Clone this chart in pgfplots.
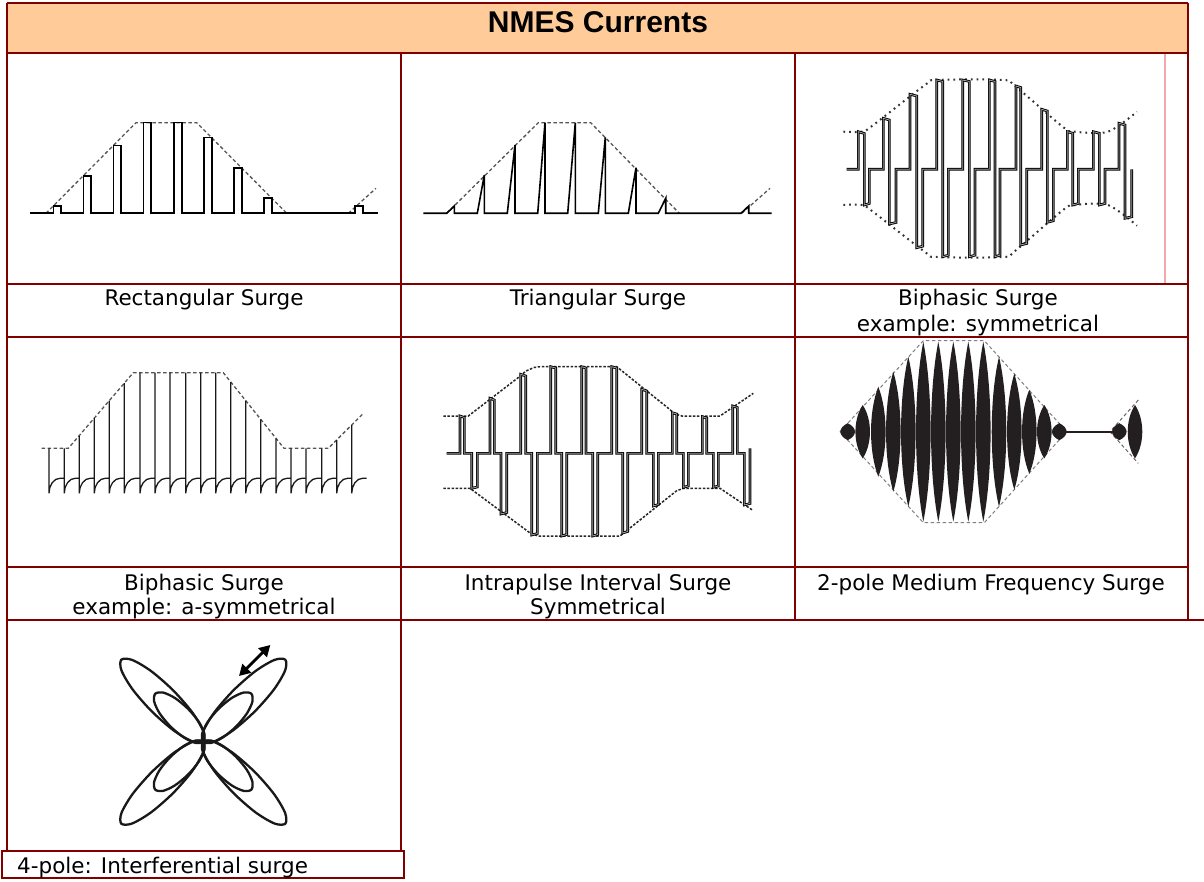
\documentclass[border=0pt]{standalone}
\usepackage{fontspec}
\setmainfont{DejaVu Sans}
\newfontfamily\titlefont{Liberation Sans}
\usepackage{pgfplots}
\pgfplotsset{compat=1.18}
\usetikzlibrary{arrows.meta}

\definecolor{bord}{HTML}{800000}
\definecolor{titlec}{HTML}{FFCC99}
\definecolor{pinkc}{HTML}{F2A8A8}
\definecolor{lensc}{HTML}{231F20}
\definecolor{envc}{HTML}{555555}

% lens shaped pulse of the medium frequency burst, height = mark size
\pgfdeclareplotmark{lens}{%
  \pgfpathmoveto{\pgfqpoint{0pt}{\pgfplotmarksize}}%
  \pgfpathcurveto{\pgfqpoint{9.7pt}{0.45\pgfplotmarksize}}{\pgfqpoint{9.7pt}{-0.45\pgfplotmarksize}}{\pgfqpoint{0pt}{-\pgfplotmarksize}}%
  \pgfpathcurveto{\pgfqpoint{-9.7pt}{-0.45\pgfplotmarksize}}{\pgfqpoint{-9.7pt}{0.45\pgfplotmarksize}}{\pgfqpoint{0pt}{\pgfplotmarksize}}%
  \pgfpathclose\pgfusepathqfill}

\newcommand{\capf}{\fontsize{21.5}{25}\selectfont}

\begin{document}
\begin{tikzpicture}
\useasboundingbox (0,0) rectangle (1204pt,882pt);
\fill[white] (0,0) rectangle (1204pt,882pt);
\begin{axis}[at={(0,0)}, anchor=south west, scale only axis,
  width=1204pt, height=882pt,
  xmin=0, xmax=1204, ymin=0, ymax=882, y dir=reverse,
  hide axis, clip=false,
  wave/.style={mark=none, draw=black, line width=1.6pt},
  dbl/.style={mark=none, draw=black, line width=0.9pt, double=black!35, double distance=0.8pt},
  env/.style={mark=none, draw=envc, line width=1.3pt, dash pattern=on 3.5pt off 2.5pt},
  ell/.style={mark=none, smooth cycle, draw=black!90, line width=2.3pt},
]
% title row
\fill[titlec] (7,3) rectangle (1188,53);

% ---- Rectangular surge
\addplot[env] coordinates {(46,213.3) (136,122.7) (196.7,122.7) (286.7,213.3)};
\addplot[env] coordinates {(348.3,213.3) (376,188.3)};
\addplot[wave] coordinates {
 (30,213.3)
 (53.3,213.3) (53.3,206) (60.7,206) (60.7,213.3)
 (83.3,213.3) (83.3,176) (91,176) (91,213.3)
 (113.3,213.3) (113.3,145.7) (121,145.7) (121,213.3)
 (143.3,213.3) (143.3,122.7) (151,122.7) (151,213.3)
 (174,213.3) (174,122.7) (181.7,122.7) (181.7,213.3)
 (204,213.3) (204,137.7) (211.7,137.7) (211.7,213.3)
 (234,213.3) (234,168.3) (241.7,168.3) (241.7,213.3)
 (264,213.3) (264,198.3) (271.7,198.3) (271.7,213.3)
 (355,213.3) (355,206) (362.7,206) (362.7,213.3)
 (378,213.3)};

% ---- Triangular surge
\addplot[env] coordinates {(446.7,213.3) (538.3,122.7) (590.7,122.7) (679.3,213.3)};
\addplot[env] coordinates {(741.7,213.3) (770,188.3)};
\addplot[wave] coordinates {
 (423.3,213.3)
 (446.7,213.3) (454.3,206) (454.3,213.3)
 (477.3,213.3) (484.3,175) (484.3,213.3)
 (507.3,213.3) (515,145) (515,213.3)
 (537.7,213.3) (545,122.7) (545,213.3)
 (567.7,213.3) (575.3,122.7) (575.3,213.3)
 (598.3,213.3) (605.3,137.3) (605.3,213.3)
 (628.3,213.3) (636,167.7) (636,213.3)
 (658.3,213.3) (665.7,198.3) (665.7,213.3)
 (741,213.3) (748.7,206) (748.7,213.3)
 (771.7,213.3)};

% ---- Biphasic surge, symmetrical
\addplot[mark=none, smooth, draw=black!80, line width=2pt, dash pattern=on 1.8pt off 4pt] coordinates {
 (843.3,131.7) (862,131.7) (872,126) (925,85) (937,80) (1003,80) (1015,86) (1063,127) (1075,131.7) (1108,131.7) (1137,111.7)};
\addplot[mark=none, smooth, draw=black!80, line width=2pt, dash pattern=on 1.8pt off 4pt] coordinates {
 (843.3,205) (862,205) (872,211) (925,252) (937,257) (1003,257) (1015,251) (1063,210) (1075,205) (1108,205) (1137,225.7)};
\addplot[dbl] coordinates {
 (846.7,169.3)
 (858.3,169.3) (858.3,131.7) (864.3,133.5) (864.3,205) (869.3,203.5) (869.3,169.3)
 (883.3,169.3) (883.3,118.3) (889.3,120) (889.3,224) (896,222.5) (896,169.3)
 (910,169.3) (910,94.3) (916.7,96) (916.7,247.7) (922.7,246.2) (922.7,169.3)
 (936.7,169.3) (936.7,80) (942.7,81.5) (942.7,256.7) (948.3,255.2) (948.3,169.3)
 (962.7,169.3) (962.7,80) (969.3,81.5) (969.3,256.7) (975,255.2) (975,169.3)
 (989.3,169.3) (989.3,80) (995,81.5) (995,256.7) (1000,255.2) (1000,169.3)
 (1016,169.3) (1016,86) (1020.7,87.5) (1020.7,245) (1026.7,243.5) (1026.7,169.3)
 (1041.7,169.3) (1041.7,109.3) (1047.3,111) (1047.3,222.3) (1053.3,220.8) (1053.3,169.3)
 (1067.3,169.3) (1067.3,131.7) (1072.7,133.2) (1072.7,205) (1078.3,203.5) (1078.3,169.3)
 (1093.3,169.3) (1093.3,131.7) (1099.3,133.2) (1099.3,205) (1105,203.5) (1105,169.3)
 (1119,169.3) (1119,123.3) (1125,125) (1125,218.3) (1131.7,216.8) (1131.7,169.3)};

% ---- Biphasic surge, a-symmetrical
\addplot[env] coordinates {(41.7,448.3) (68.3,448.3) (133.3,372.7) (223.3,372.7) (284,448.3) (328.3,448.3) (362.7,414)};
\addplot[mark=none, draw=black!90, line width=1.3pt] coordinates {
 (49,448.3) (49,493.3) (49.8,487.6) (52.2,482.7) (55.8,479.4) (60,478.3)
 (64.3,478.3) (64.3,448.3) (64.3,493.3) (65.1,487.6) (67.5,482.7) (71.1,479.4) (75.3,478.3)
 (79.3,478.3) (79.3,436) (79.3,493.3) (80.1,487.6) (82.5,482.7) (86.1,479.4) (90.3,478.3)
 (94.3,478.3) (94.3,418.2) (94.3,493.3) (95.1,487.6) (97.5,482.7) (101.1,479.4) (105.3,478.3)
 (109.3,478.3) (109.3,400.6) (109.3,493.3) (110.1,487.6) (112.5,482.7) (116.1,479.4) (120.3,478.3)
 (124.3,478.3) (124.3,383.2) (124.3,493.3) (125.1,487.6) (127.5,482.7) (131.1,479.4) (135.3,478.3)
 (140,478.3) (140,372.7) (140,493.3) (140.8,487.6) (143.2,482.7) (146.8,479.4) (151,478.3)
 (155,478.3) (155,372.7) (155,493.3) (155.8,487.6) (158.2,482.7) (161.8,479.4) (166,478.3)
 (170,478.3) (170,372.7) (170,493.3) (170.8,487.6) (173.2,482.7) (176.8,479.4) (181,478.3)
 (185.7,478.3) (185.7,372.7) (185.7,493.3) (186.5,487.6) (188.9,482.7) (192.5,479.4) (196.7,478.3)
 (200.7,478.3) (200.7,372.7) (200.7,493.3) (201.5,487.6) (203.9,482.7) (207.5,479.4) (211.7,478.3)
 (215.7,478.3) (215.7,372.7) (215.7,493.3) (216.5,487.6) (218.9,482.7) (222.5,479.4) (226.7,478.3)
 (230.7,478.3) (230.7,382) (230.7,493.3) (231.5,487.6) (233.9,482.7) (237.5,479.4) (241.7,478.3)
 (245.7,478.3) (245.7,400.6) (245.7,493.3) (246.5,487.6) (248.9,482.7) (252.5,479.4) (256.7,478.3)
 (260.7,478.3) (260.7,419.3) (260.7,493.3) (261.5,487.6) (263.9,482.7) (267.5,479.4) (271.7,478.3)
 (276,478.3) (276,438.3) (276,493.3) (276.8,487.6) (279.2,482.7) (282.8,479.4) (287,478.3)
 (291,478.3) (291,448.3) (291,493.3) (291.8,487.6) (294.2,482.7) (297.8,479.4) (302,478.3)
 (306,478.3) (306,448.3) (306,493.3) (306.8,487.6) (309.2,482.7) (312.8,479.4) (317,478.3)
 (321.7,478.3) (321.7,448.3) (321.7,493.3) (322.5,487.6) (324.9,482.7) (328.5,479.4) (332.7,478.3)
 (336.7,478.3) (336.7,440) (336.7,493.3) (337.5,487.6) (339.9,482.7) (343.5,479.4) (347.7,478.3)
 (351.7,478.3) (351.7,425) (351.7,493.3) (352.5,487.6) (354.9,482.7) (358.5,479.4) (362.7,478.3) (366.7,478.3)};

% ---- Intrapulse interval surge
\addplot[mark=none, draw=black!85, line width=1.5pt, dash pattern=on 2.5pt off 1.6pt] coordinates {
 (443.3,416) (468.3,416) (519,377) (526,371) (534,367.5) (540,366.7) (616.7,366.7) (668,408) (675,414) (682,416) (720,416) (753.3,393.3)};
\addplot[mark=none, draw=black!85, line width=1.5pt, dash pattern=on 2.5pt off 1.6pt] coordinates {
 (443.3,488.3) (470,488.3) (522,527) (530,533) (538,536) (620,536) (670,496) (677,490.5) (684,488.3) (720,488.3) (753.3,510.7)};
\addplot[dbl] coordinates {
 (446.7,453.3)
 (460,453.3) (460,416) (464.3,417.5) (464.3,453.3) (471.7,453.3) (471.7,488.3) (477.3,487) (477.3,453.3)
 (490,453.3) (490,398.3) (494.3,400) (494.3,453.3) (501,453.3) (501,514) (506.7,512.5) (506.7,453.3)
 (520.7,453.3) (520.7,374.3) (525.7,376) (525.7,453.3) (531.7,453.3) (531.7,535) (537.3,533.5) (537.3,453.3)
 (550.7,453.3) (550.7,366.7) (555.7,368) (555.7,453.3) (561.7,453.3) (561.7,536) (566.7,534.5) (566.7,453.3)
 (581.7,453.3) (581.7,366.7) (586,368) (586,453.3) (592.7,453.3) (592.7,536) (597.7,534.5) (597.7,453.3)
 (611.7,453.3) (611.7,366.7) (616.7,368) (616.7,453.3) (622.7,453.3) (622.7,533) (627.7,531.5) (627.7,453.3)
 (641.7,453.3) (641.7,389.3) (646.7,391) (646.7,453.3) (653.3,453.3) (653.3,506) (658.3,504.5) (658.3,453.3)
 (672.3,453.3) (672.3,412.7) (676.7,414) (676.7,453.3) (683.3,453.3) (683.3,487.3) (688.3,486) (688.3,453.3)
 (702.3,453.3) (702.3,416.7) (706.7,418) (706.7,453.3) (713.3,453.3) (713.3,487.3) (718.3,486) (718.3,453.3)
 (732.7,453.3) (732.7,406) (737.3,407.5) (737.3,453.3) (744.3,453.3) (744.3,505) (750,503.5) (750,448.3)};

% ---- 2-pole medium frequency surge
\addplot[env, draw=gray, line width=1pt] coordinates {(840,431.7) (923.3,340.7) (984.3,340.7) (1066.7,431.7) (984.3,522.7) (923.3,522.7) (840,431.7)};
\addplot[env, draw=gray!80!black, line width=1pt] coordinates {(1138.3,400) (1110,431.7) (1138.3,463.4)};
\addplot[mark=none, draw=lensc, line width=2.2pt] coordinates {(1059.3,431.7) (1119.3,431.7)};
\addplot[scatter, only marks, mark=lens,
  scatter/use mapped color={draw=none, fill=lensc},
  visualization depends on={\thisrow{h} \as \hh},
  scatter/@pre marker code/.append style={/tikz/mark size=\hh}]
  table {
  x y h
  847.7 431.7 8.5
  862.7 431.7 26.7
  878.3 431.7 45
  893.3 431.7 60
  908.3 431.7 75
  923.3 431.7 90
  938.3 431.7 90
  953.3 431.7 90
  968.3 431.7 90
  983.3 431.7 90
  999 431.7 75
  1014.3 431.7 58
  1029.3 431.7 42
  1044.3 431.7 26.7
  1059.3 431.7 8.5
  1119.3 431.7 8.5
  1135 431.7 26.7
  };

% ---- 4-pole interferential: outer lobes
\addplot[ell] coordinates {
 (121.3,659.7) (132.1,659.9) (151.0,671.0) (172.9,690.1) (192.0,712.0) (203.1,730.9)
 (203.3,741.7) (192.5,741.5) (173.6,730.4) (151.7,711.3) (132.6,689.4) (121.5,670.5)};
\addplot[ell] coordinates {
 (285.3,659.7) (274.5,659.9) (255.6,671.0) (233.7,690.1) (214.6,712.0) (203.5,730.9)
 (203.3,741.7) (214.1,741.5) (233.0,730.4) (254.9,711.3) (274.0,689.4) (285.1,670.5)};
\addplot[ell] coordinates {
 (121.3,823.7) (132.1,823.5) (151.0,812.4) (172.9,793.3) (192.0,771.4) (203.1,752.5)
 (203.3,741.7) (192.5,741.9) (173.6,753.0) (151.7,772.1) (132.6,794.0) (121.5,812.9)};
\addplot[ell] coordinates {
 (285.3,823.7) (274.5,823.5) (255.6,812.4) (233.7,793.3) (214.6,771.4) (203.5,752.5)
 (203.3,741.7) (214.1,741.9) (233.0,753.0) (254.9,772.1) (274.0,794.0) (285.1,812.9)};
% inner lobes
\addplot[ell] coordinates {
 (155.3,693.7) (162.9,692.5) (174.9,698.0) (188.1,708.9) (199.0,722.1) (204.5,734.1)
 (203.3,741.7) (195.7,742.9) (183.7,737.4) (170.5,726.5) (159.6,713.3) (154.1,701.3)};
\addplot[ell] coordinates {
 (251.3,693.7) (243.7,692.5) (231.7,698.0) (218.5,708.9) (207.6,722.1) (202.1,734.1)
 (203.3,741.7) (210.9,742.9) (222.9,737.4) (236.1,726.5) (247.0,713.3) (252.5,701.3)};
\addplot[ell] coordinates {
 (155.3,789.7) (162.9,790.9) (174.9,785.4) (188.1,774.5) (199.0,761.3) (204.5,749.3)
 (203.3,741.7) (195.7,740.5) (183.7,746.0) (170.5,756.9) (159.6,770.1) (154.1,782.1)};
\addplot[ell] coordinates {
 (251.3,789.7) (243.7,790.9) (231.7,785.4) (218.5,774.5) (207.6,761.3) (202.1,749.3)
 (203.3,741.7) (210.9,740.5) (222.9,746.0) (236.1,756.9) (247.0,770.1) (252.5,782.1)};
\addplot[mark=none, draw=black, line width=2.8pt,
  arrows={Triangle[length=11pt,width=12pt]-Triangle[length=11pt,width=12pt]}]
  coordinates {(239,676) (270.3,645)};

% ---- table rules
\draw[pinkc, line width=1.3pt] (1165,53) -- (1165,284);
\begin{scope}[bord, line width=2.6pt]
\draw (7,3) -- (1188,3);
\draw (7,53) -- (1188,53);
\draw (7,284) -- (1188,284);
\draw (7,337) -- (1188,337);
\draw (7,567) -- (1188,567);
\draw (7,620) -- (1204,620);
\draw (7,3) -- (7,851);
\draw (1188,3) -- (1188,620);
\draw (401,53) -- (401,851);
\draw (795,53) -- (795,620);
\draw (2,851) rectangle (404,878);
\end{scope}

% ---- texts
\node[anchor=base, font=\titlefont\bfseries\fontsize{30}{34}\selectfont] at (598,33) {NMES Currents};
\node[anchor=base, font=\capf] at (204,306) {Rectangular Surge};
\node[anchor=base, font=\capf] at (598,306) {Triangular Surge};
\node[anchor=base, font=\capf] at (978,306) {Biphasic Surge};
\node[anchor=base, font=\capf] at (978,331) {example: symmetrical};
\node[anchor=base, font=\capf] at (204,590) {Biphasic Surge};
\node[anchor=base, font=\capf] at (204,614) {example: a-symmetrical};
\node[anchor=base, font=\capf] at (598,590) {Intrapulse Interval Surge};
\node[anchor=base, font=\capf] at (598,614) {Symmetrical};
\node[anchor=base, font=\capf] at (991,590) {2-pole Medium Frequency Surge};
\node[anchor=base west, font=\capf, inner xsep=0pt] at (17,873) {4-pole: Interferential surge};
\end{axis}
\end{tikzpicture}
\end{document}
